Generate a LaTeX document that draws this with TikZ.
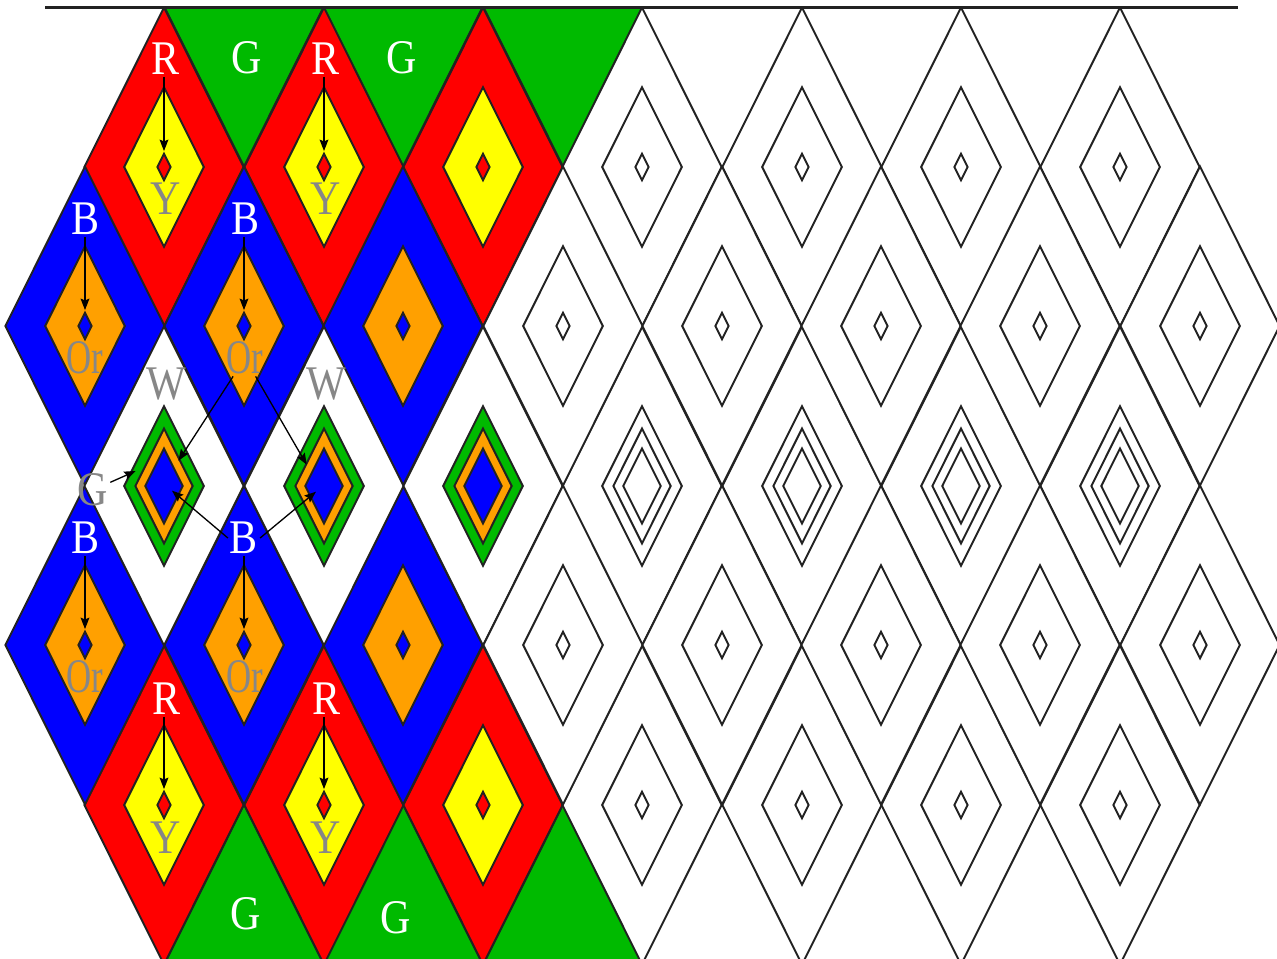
\documentclass[tikz,border=0pt]{standalone}
\usepackage{fontspec}
\setmainfont{Liberation Serif}[FakeStretch=0.87]
\newfontfamily\orfont{Liberation Serif}[FakeStretch=0.72]
\usetikzlibrary{arrows.meta, shapes.geometric}
\definecolor{pred}{HTML}{FF0000}
\definecolor{pgreen}{HTML}{00BA00}
\definecolor{pblue}{HTML}{0000FF}
\definecolor{pyellow}{HTML}{FFFF00}
\definecolor{porange}{HTML}{FFA000}
\definecolor{pgray}{HTML}{878787}
\definecolor{pline}{HTML}{222222}
\tikzset{
  rh/.style={shape=diamond, draw=pline, line width=1.1pt, inner sep=0pt,
             outer sep=0pt, fill=white, minimum width=3.186cm, minimum height=6.38cm},
  rhin/.style={rh, minimum width=1.593cm, minimum height=3.19cm},
  rhmid/.style={rh, minimum width=1.147cm, minimum height=2.297cm},
  rhsm/.style={rh, minimum width=0.749cm, minimum height=1.499cm},
  rhtiny/.style={rh, minimum width=0.266cm, minimum height=0.532cm},
  lbl/.style={font=\fontsize{27.5}{27.5}\selectfont, inner sep=1pt},
  lblw/.style={lbl, text=white},
  lblg/.style={lbl, text=pgray},
  lblo/.style={lblg, font=\orfont\fontsize{27.5}{27.5}\selectfont},
  arr/.style={-{Stealth[length=6.5pt, width=5pt, inset=1pt]}, line width=0.75pt, black,
              shorten >=1.5pt},
}
\begin{document}
\begin{tikzpicture}[x=0.02cm, y=-0.02cm]
  \useasboundingbox (0,0) rectangle (1277,959);

  \begin{scope}
  \clip (0,7.5) rectangle (1277,959);

  % green half diamonds, top and bottom
  \foreach \px/\n in {244/1,403/2,563/3}{
    \node[rh, fill=pgreen] (gt\n) at (\px,7) {};
    \node[rh, fill=pgreen] (gb\n) at (\px,964) {};
  }

  % red rows
  \foreach \px/\n in {164/1,324/2,483/3}{
    \foreach \py/\m in {167/1,805/5}{
      \node[rh, fill=pred] (r\n\m) at (\px,\py) {};
      \node[rhin, fill=pyellow] (y\n\m) at (\px,\py) {};
      \node[rhtiny, fill=pred] (tr\n\m) at (\px,\py) {};
    }
  }

  % blue rows
  \foreach \px/\n in {85/1,244/2,403/3}{
    \foreach \py/\m in {326/2,645/4}{
      \node[rh, fill=pblue] (b\n\m) at (\px,\py) {};
      \node[rhin, fill=porange] (o\n\m) at (\px,\py) {};
      \node[rhtiny, fill=pblue] (tb\n\m) at (\px,\py) {};
    }
  }

  % white middle row
  \foreach \px/\n in {164/1,324/2,483/3}{
    \node[rh] (w\n) at (\px,486) {};
    \node[rhin, fill=pgreen] (gw\n) at (\px,486) {};
    \node[rhmid, fill=porange] (ow\n) at (\px,486) {};
    \node[rhsm, fill=pblue] (bw\n) at (\px,486) {};
  }

  % plain outlines
  \foreach \px in {642,802,961,1120}{
    \foreach \py/\m in {167/1,805/5}{
      \node[rh] (wo\px r\m) at (\px,\py) {};
      \node[rhin] (wi\px r\m) at (\px,\py) {};
      \node[rhtiny] (wt\px r\m) at (\px,\py) {};
    }
    \node[rh] (wo\px r3) at (\px,486) {};
    \node[rhin] (wi\px r3) at (\px,486) {};
    \node[rhmid] (wm\px r3) at (\px,486) {};
    \node[rhsm] (ws\px r3) at (\px,486) {};
  }
  \foreach \px in {563,722,881,1040,1200}{
    \foreach \py/\m in {326/2,645/4}{
      \node[rh] (wo\px r\m) at (\px,\py) {};
      \node[rhin] (wi\px r\m) at (\px,\py) {};
      \node[rhtiny] (wt\px r\m) at (\px,\py) {};
    }
  }
  \end{scope}

  \draw[line width=1.3pt, pline] (45,7.5) -- (1238,7.5);

  % labels
  \node[lblw] (lR11) at (166,59) {R};
  \node[lblw] (lR21) at (326,59) {R};
  \node[lblw] (lR15) at (167,699) {R};
  \node[lblw] (lR25) at (327,699) {R};
  \node[lblw] (lG1) at (247,58) {G};
  \node[lblw] (lG2) at (402,58) {G};
  \node[lblw] (lG3) at (246,914) {G};
  \node[lblw] (lG4) at (396,918) {G};
  \node[lblg] (lY11) at (166,199) {Y};
  \node[lblg] (lY21) at (326,199) {Y};
  \node[lblg] (lY15) at (166,838) {Y};
  \node[lblg] (lY25) at (326,838) {Y};
  \node[lblw] (lB12) at (86,219) {B};
  \node[lblw] (lB22) at (246,219) {B};
  \node[lblw] (lB14) at (86,538) {B};
  \node[lblw] (lB24) at (244,538) {B};
  \node[lblo] (lO12) at (85,358) {Or};
  \node[lblo] (lO22) at (245,358) {Or};
  \node[lblo] (lO14) at (85,677) {Or};
  \node[lblo] (lO24) at (245,677) {Or};
  \node[lblg] (lW1) at (166,384) {W};
  \node[lblg] (lW2) at (326,384) {W};
  \node[lblg] (lG0) at (93,490) {G};

  % arrows
  \foreach \n/\m in {1/1,2/1,1/5,2/5}{
    \draw[arr] (lR\n\m.south -| tr\n\m) -- (tr\n\m.north);
  }
  \foreach \n/\m in {1/2,2/2,1/4,2/4}{
    \draw[arr] (lB\n\m.south -| tb\n\m) -- (tb\n\m.north);
  }
  \coordinate (gtip) at (138,470);
  \coordinate (otipL) at (177,463);
  \coordinate (otipR) at (308,467);
  \coordinate (btipL) at (170,489);
  \coordinate (btipR) at (318,490);
  \draw[arr] (lG0) -- (gtip);
  \draw[arr] (lO22) -- (otipL);
  \draw[arr] (lO22) -- (otipR);
  \draw[arr] (lB24.west) -- (btipL);
  \draw[arr] (lB24.east) -- (btipR);
\end{tikzpicture}
\end{document}
